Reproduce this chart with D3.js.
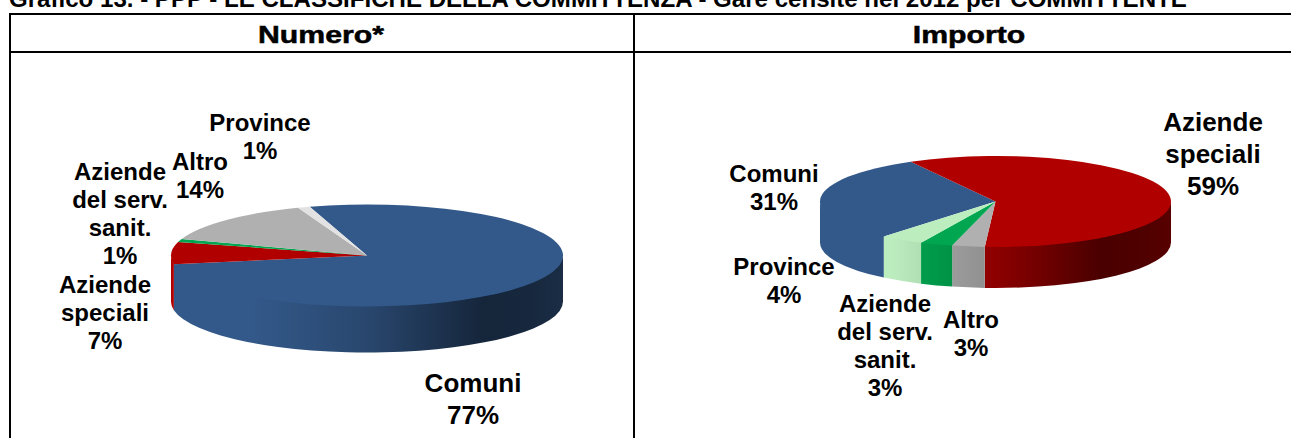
<!DOCTYPE html>
<html>
<head>
<meta charset="utf-8">
<script src="https://cdn.jsdelivr.net/npm/d3@7"></script>
<style>
    html, body { margin: 0; padding: 0; background: #fff; overflow: hidden; }
    svg { display: block; }
    text { font-family: "Liberation Sans", Arial, sans-serif; font-weight: bold; fill: #000; }
</style>
</head>
<body>
<svg id="chart" width="1291" height="438"></svg>
<script>
const titleText = "Grafico 13. - PPP - LE CLASSIFICHE DELLA COMMITTENZA - Gare censite nel 2012 per COMMITTENTE";

// Numero (clockwise, as drawn in the original)
const numeroCategories = ["Comuni", "Aziende speciali", "Aziende del serv. sanit.", "Altro", "Province"];
const numeroValues = [77, 7, 1, 14, 1];
const numeroColors = ["#33598a", "#b00000", "#00a650", "#b0b0b0", "#e2e2e2"];
const numeroLabels = [
    ["Comuni", "77%"],
    ["Aziende", "speciali", "7%"],
    ["Aziende", "del serv.", "sanit.", "1%"],
    ["Altro", "14%"],
    ["Province", "1%"]
];

// Importo
const importoCategories = ["Comuni", "Aziende speciali", "Altro", "Aziende del serv. sanit.", "Province"];
const importoValues = [31, 59, 3, 3, 4];
const importoColors = ["#33598a", "#b00000", "#b0b0b0", "#00a650", "#bcedbf"];
const importoLabels = [
    ["Comuni", "31%"],
    ["Aziende", "speciali", "59%"],
    ["Altro", "3%"],
    ["Aziende", "del serv.", "sanit.", "3%"],
    ["Province", "4%"]
];

// label anchors: [center x, first baseline, font size, line height]
const numeroLabelPos = [[473, 392, 26, 32], [105, 293, 24, 28], [120, 180, 24, 28], [200, 170, 24, 28], [260, 131, 24, 28]];
const importoLabelPos = [[774, 182, 24, 28], [1213, 131, 26, 32], [971, 328, 24, 28], [885, 312, 24, 28], [784, 275, 24, 28]];

const svg = d3.select("#chart");
const defs = svg.append("defs");
const toRad = d => d * Math.PI / 180;

// shading of the side wall, from left to right of the pie
const shadeStops = [[0, 1], [0.2, 1], [0.5, 0.8], [0.8, 0.42], [0.92, 0.45], [1, 0.5]];

function drawTable() {
    // the page crops this line in the original too
    svg.append("text")
        .attr("x", 9)
        .attr("y", 7)
        .attr("font-size", 24.08)
        .text(titleText);

    const lines = [[9, 14, 1291, 14], [9, 52, 1291, 52], [10, 14, 10, 438], [634, 14, 634, 438]];
    svg.selectAll("line.grid")
        .data(lines)
        .enter()
        .append("line")
            .attr("class", "grid")
            .attr("x1", d => d[0])
            .attr("y1", d => d[1])
            .attr("x2", d => d[2])
            .attr("y2", d => d[3])
            .attr("stroke", "#000")
            .attr("stroke-width", 2);

    // the headers are an extended bold face in the original
    [["Numero*", 321], ["Importo", 969]].forEach(([label, x]) => {
        svg.append("text")
            .attr("transform", "translate(" + x + ",43) scale(1.26,1)")
            .attr("text-anchor", "middle")
            .attr("font-size", 24)
            .attr("stroke", "#000")
            .attr("stroke-width", 0.5)
            .text(label);
    });
}

function drawPie(values, colors, labels, labelPos, opts) {
    const {id, cx, cy, rx, ry, depth, start} = opts;
    const g = svg.append("g").attr("transform", "translate(" + cx + "," + cy + ")");

    const pie = d3.pie()
        .sort(null)
        .startAngle(toRad(start))
        .endAngle(toRad(start + 360));
    const slices = pie(values);

    const gradientId = i => id + "-wall-" + i;
    colors.forEach((color, i) => {
        const gradient = defs.append("linearGradient")
            .attr("id", gradientId(i))
            .attr("gradientUnits", "userSpaceOnUse")
            .attr("x1", -rx).attr("x2", rx)
            .attr("y1", 0).attr("y2", 0);
        shadeStops.forEach(([offset, shade]) => {
            const c = d3.rgb(color);
            gradient.append("stop")
                .attr("offset", offset)
                .attr("stop-color", d3.rgb(c.r * shade, c.g * shade, c.b * shade).formatHex());
        });
    });

    const point = (a, dy) => {
        const [x, y] = d3.pointRadial(a, 1);
        return (x * rx) + "," + (y * ry + dy);
    };

    // side wall: only the front half of the rim, 90deg to 270deg clockwise from the top
    slices.forEach((d, i) => {
        [0, 2 * Math.PI].forEach(turn => {
            const a0 = Math.max(d.startAngle, Math.PI / 2 + turn);
            const a1 = Math.min(d.endAngle, 3 * Math.PI / 2 + turn);
            if (a1 <= a0) return;
            g.append("path")
                .attr("d", "M" + point(a0, -1)
                    + "A" + rx + "," + ry + " 0 0 1 " + point(a1, -1)
                    + "L" + point(a1, depth)
                    + "A" + rx + "," + ry + " 0 0 0 " + point(a0, depth) + "Z")
                .attr("fill", "url(#" + gradientId(i) + ")");
        });
    });

    // top face: a circle arc squashed to the ellipse
    const arc = d3.arc().innerRadius(0).outerRadius(rx);
    g.append("g")
        .attr("transform", "scale(1," + (ry / rx) + ")")
        .selectAll("path")
        .data(slices)
        .enter()
        .append("path")
            .attr("d", arc)
            .attr("fill", (d, i) => colors[i]);

    labels.forEach((lineTexts, i) => {
        const [x, y, size, lineHeight] = labelPos[i];
        lineTexts.forEach((t, j) => {
            svg.append("text")
                .attr("x", x)
                .attr("y", y + j * lineHeight)
                .attr("text-anchor", "middle")
                .attr("font-size", size)
                .text(t);
        });
    });
}

drawTable();
drawPie(numeroValues, numeroColors, numeroLabels, numeroLabelPos,
    {id: "numero", cx: 367, cy: 255.5, rx: 196, ry: 51, depth: 46, start: 343});
drawPie(importoValues, importoColors, importoLabels, importoLabelPos,
    {id: "importo", cx: 995.5, cy: 201.5, rx: 175.5, ry: 45.5, depth: 41, start: 219.5});
</script>
</body>
</html>
